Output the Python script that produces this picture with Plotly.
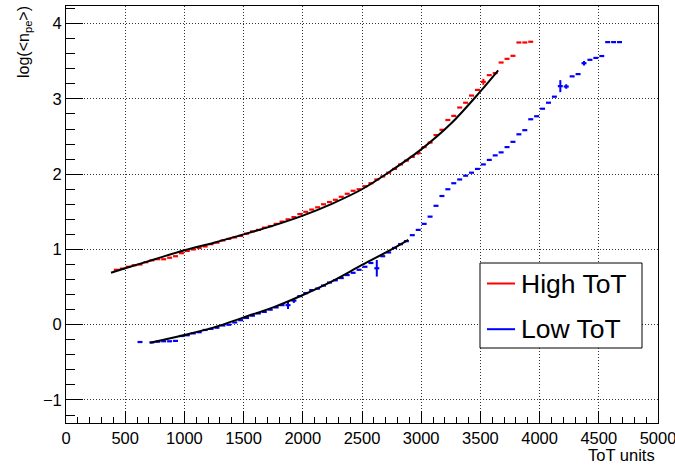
import plotly.graph_objects as go

# ---------------- data ----------------
red_x = [425, 475, 525, 575, 625, 675, 725, 775, 825, 875, 925, 975,
         1025, 1075, 1125, 1175, 1225, 1275, 1325, 1375, 1425, 1475,
         1525, 1575, 1625, 1675, 1725, 1775, 1825, 1875, 1925, 1975,
         2025, 2075, 2125, 2175, 2225, 2275, 2325, 2375, 2425, 2475,
         2525, 2575, 2625, 2675, 2725, 2775, 2825, 2875, 2925, 2975,
         3025, 3075, 3125, 3175, 3225, 3275, 3325, 3375, 3425, 3475,
         3525, 3575, 3625, 3675, 3725, 3775, 3825, 3875, 3925]
red_y = [0.73, 0.745, 0.77, 0.79, 0.80, 0.83, 0.855, 0.87, 0.87, 0.89, 0.91, 0.95,
         0.98, 1.00, 1.02, 1.04, 1.07, 1.09, 1.12, 1.14, 1.16, 1.18,
         1.21, 1.24, 1.26, 1.29, 1.31, 1.34, 1.37, 1.40, 1.43, 1.47,
         1.50, 1.53, 1.56, 1.60, 1.63, 1.66, 1.70, 1.74, 1.78, 1.80,
         1.84, 1.88, 1.93, 1.97, 2.02, 2.07, 2.13, 2.18, 2.23, 2.28,
         2.36, 2.42, 2.52, 2.59, 2.72, 2.775, 2.886, 2.95, 3.045, 3.12,
         3.227, 3.316, 3.343, 3.484, 3.533, 3.573, 3.75, 3.75, 3.76]
red_err = [0.0] * len(red_x)
red_err[red_x.index(3525)] = 0.04
red_err[red_x.index(2975)] = 0.02

blue_x = [625, 725, 775, 825, 875, 925, 975,
          1025, 1075, 1125, 1175, 1225, 1275, 1325, 1375, 1425, 1475,
          1525, 1575, 1625, 1675, 1725, 1775, 1825, 1875, 1925, 1975,
          2025, 2075, 2125, 2175, 2225, 2275, 2325, 2375, 2425, 2475,
          2525, 2575, 2625, 2675, 2725, 2775, 2825, 2875, 2925, 2975,
          3025, 3075, 3125, 3175, 3225, 3275, 3325, 3375, 3425, 3475,
          3525, 3575, 3625, 3675, 3725, 3775, 3825, 3875, 3925, 3975,
          4025, 4075, 4125, 4175, 4225, 4275, 4325, 4375, 4425, 4475,
          4525, 4575, 4625, 4675]
blue_y = [-0.23, -0.235, -0.225, -0.22, -0.22, -0.215, -0.15,
          -0.14, -0.115, -0.10, -0.07, -0.055, -0.04, -0.01, 0.0, 0.03, 0.06,
          0.09, 0.12, 0.15, 0.17, 0.20, 0.23, 0.26, 0.26, 0.32, 0.38,
          0.42, 0.46, 0.48, 0.52, 0.56, 0.59, 0.62, 0.66, 0.69, 0.73,
          0.77, 0.82, 0.75, 0.91, 0.96, 1.02, 1.07, 1.11, 1.19, 1.26,
          1.34, 1.436, 1.58, 1.71, 1.80, 1.88, 1.93, 1.98, 2.02, 2.07,
          2.13, 2.19, 2.25, 2.29, 2.36, 2.43, 2.53, 2.585, 2.73, 2.77,
          2.87, 2.95, 3.03, 3.17, 3.165, 3.30, 3.33, 3.475, 3.52, 3.545,
          3.57, 3.755, 3.755, 3.755]
blue_err = [0.0] * len(blue_x)
blue_err[blue_x.index(1875)] = 0.05
blue_err[blue_x.index(1925)] = 0.03
blue_err[blue_x.index(2625)] = 0.11
blue_err[blue_x.index(4175)] = 0.08
blue_err[blue_x.index(4225)] = 0.03
blue_err[blue_x.index(4375)] = 0.03

red_fit_x = [380, 500, 750, 1000, 1250, 1500, 1750, 2000, 2250, 2500, 2750, 3000, 3250, 3500, 3650]
red_fit_y = [0.69, 0.75, 0.87, 0.99, 1.09, 1.20, 1.317, 1.45, 1.61, 1.80, 2.05, 2.33, 2.67, 3.10, 3.38]

blue_fit_x = [711, 1000, 1250, 1500, 1750, 2000, 2250, 2500, 2750, 2891]
blue_fit_y = [-0.24, -0.137, -0.035, 0.098, 0.23, 0.395, 0.58, 0.794, 1.0, 1.126]

series_names = ["High ToT", "Low ToT"]
series_colors = ["#ff0000", "#0000ff"]

BIN_HALF = 21
X_RANGE = [0, 5000]
Y_RANGE = [-1.306, 4.235]

FONT = "Liberation Sans, Arial, Helvetica, sans-serif"
GRID = dict(showgrid=True, gridcolor="#333", griddash="1px,2px", gridwidth=1)

fig = go.Figure()

def hist_trace(x, y, err, color, name):
    return go.Scatter(
        x=x, y=y, mode="markers", name=name, showlegend=False,
        marker=dict(size=1, color=color),
        error_x=dict(type="constant", value=BIN_HALF, color=color, thickness=2.2, width=0),
        error_y=dict(type="data", array=err, color=color, thickness=2, width=0),
        hoverinfo="skip",
    )

fig.add_trace(hist_trace(red_x, red_y, red_err, series_colors[0], series_names[0]))
fig.add_trace(hist_trace(blue_x, blue_y, blue_err, series_colors[1], series_names[1]))

fig.add_trace(go.Scatter(x=red_fit_x, y=red_fit_y, mode="lines", line=dict(color="black", width=2, shape="spline"),
                         showlegend=False, hoverinfo="skip"))
fig.add_trace(go.Scatter(x=blue_fit_x, y=blue_fit_y, mode="lines", line=dict(color="black", width=2, shape="spline"),
                         showlegend=False, hoverinfo="skip"))

W, H = 675, 465
ml, mr, mt, mb = 66, 17, 6, 42
pw, ph = W - ml - mr, H - mt - mb

def px_x(p):
    return (p - ml) / pw

def px_y(p):
    return (H - mb - p) / ph

fig.update_layout(
    width=W, height=H,
    margin=dict(l=ml, r=mr, t=mt, b=mb, autoexpand=False),
    paper_bgcolor="white", plot_bgcolor="white",
    font=dict(family=FONT, color="black", size=16),
    showlegend=False,
    xaxis=dict(
        range=X_RANGE, dtick=500, tick0=0, **GRID,
        showline=True, linecolor="black", linewidth=1, mirror=True,
        ticks="inside", ticklen=12, tickcolor="black",
        minor=dict(ticks="inside", ticklen=6, dtick=100, tickcolor="black", showgrid=False),
        tickfont=dict(size=16.5), zeroline=False, automargin=False,
        ticklabeloverflow="allow",
    ),
    yaxis=dict(
        range=Y_RANGE, dtick=1, tick0=0, **GRID,
        showline=True, linecolor="black", linewidth=1, mirror=True,
        ticks="inside", ticklen=17, tickcolor="black",
        minor=dict(ticks="inside", ticklen=8.5, dtick=0.2, tickcolor="black", showgrid=False),
        tickfont=dict(size=16.5), zeroline=False, automargin=False,
        ticklabeloverflow="allow",
    ),
)

# legend box (ROOT TLegend style)
fig.add_shape(type="rect", xref="paper", yref="paper",
              x0=px_x(480), x1=px_x(642), y0=px_y(348), y1=px_y(263),
              line=dict(color="black", width=1), fillcolor="white", layer="above")
for i, (name, color) in enumerate(zip(series_names, series_colors)):
    yc = 283.5 + i * 45.7
    fig.add_shape(type="line", xref="paper", yref="paper",
                  x0=px_x(487), x1=px_x(515), y0=px_y(yc), y1=px_y(yc),
                  line=dict(color=color, width=2), layer="above")
    fig.add_annotation(text=name, xref="paper", yref="paper", x=px_x(519), y=px_y(yc),
                       xanchor="left", yanchor="middle", showarrow=False,
                       font=dict(size=26.5, family=FONT, color="black"))

fig.add_annotation(
    text="log(&lt;n<sub>pe</sub>&gt;)", textangle=-90,
    xref="paper", yref="paper", x=px_x(24), y=px_y(4),
    xanchor="center", yanchor="top", showarrow=False, font=dict(size=16, family=FONT),
)
fig.add_annotation(
    text="ToT units",
    xref="paper", yref="paper", x=px_x(657), y=px_y(444),
    xanchor="right", yanchor="top", showarrow=False, font=dict(size=16.5, family=FONT),
)

fig.write_html("out.html", config={"displayModeBar": False},
               post_script="document.body.style.margin='0px';document.body.style.padding='0px';")
